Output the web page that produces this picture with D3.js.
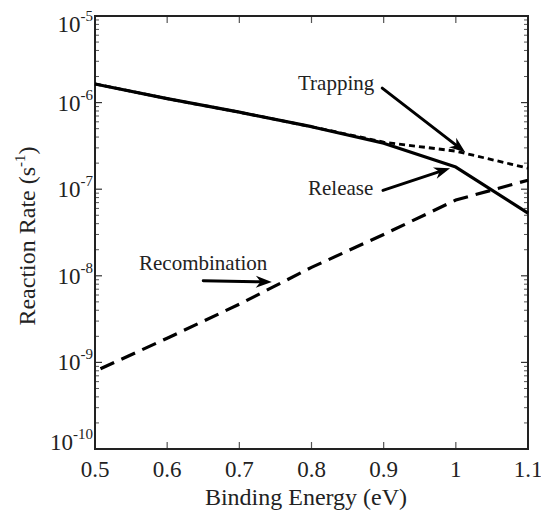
<!DOCTYPE html>
<html>
<head>
<meta charset="utf-8">
<script src="https://cdn.jsdelivr.net/npm/d3@7"></script>
<style>
  html, body { margin: 0; padding: 0; background: #fff; }
  svg { display: block; font-family: "Liberation Serif", "Times New Roman", serif; }
</style>
</head>
<body>
<svg id="chart" width="541" height="513"></svg>
<script>
// ---- data ----
const energies = [0.5, 0.6, 0.7, 0.8, 0.9, 1.0, 1.1];
const trapping = [1.64e-6, 1.11e-6, 7.75e-7, 5.27e-7, 3.5e-7, 2.75e-7, 1.75e-7];
const release  = [1.64e-6, 1.11e-6, 7.75e-7, 5.27e-7, 3.4e-7, 1.8e-7, 5.3e-8];
const recombination = [7.9e-10, 1.9e-9, 4.7e-9, 1.25e-8, 3.0e-8, 7.5e-8, 1.27e-7];
const xTicks = [0.5, 0.6, 0.7, 0.8, 0.9, 1.0, 1.1];
const xTickLabels = ["0.5", "0.6", "0.7", "0.8", "0.9", "1", "1.1"];
const yExponents = [-5, -6, -7, -8, -9, -10];
const annotations = [
  { label: "Trapping", tx: 298, ty: 90, from: [0.898, 1.47e-6], to: [1.013, 2.67e-7] },
  { label: "Release", tx: 308, ty: 195, from: [0.899, 9.7e-8], to: [0.992, 1.75e-7] },
  { label: "Recombination", tx: 139, ty: 270, from: [0.65, 8.75e-9], to: [0.745, 8.5e-9] }
];

// ---- layout ----
const svg = d3.select("#chart");
const L = 95, T = 16, R = 528, B = 449;
const x = d3.scaleLinear().domain([0.5, 1.1]).range([L, R]);
const y = d3.scaleLog().domain([1e-10, 1e-5]).range([B, T]);

// minor ticks for log axis
const minorVals = [];
for (let e = -10; e < -5; e++) for (let k = 2; k <= 9; k++) minorVals.push(k * Math.pow(10, e));

const g = svg.append("g");

// left & right ticks
[{ x0: L, dir: 1 }, { x0: R, dir: -1 }].forEach(s => {
  g.selectAll(null).data(minorVals).enter().append("line")
    .attr("x1", s.x0).attr("x2", s.x0 + s.dir * 4)
    .attr("y1", d => y(d)).attr("y2", d => y(d))
    .attr("stroke", "#555").attr("stroke-width", 1);
  g.selectAll(null).data(yExponents).enter().append("line")
    .attr("x1", s.x0).attr("x2", s.x0 + s.dir * 7)
    .attr("y1", d => y(Math.pow(10, d))).attr("y2", d => y(Math.pow(10, d)))
    .attr("stroke", "#333").attr("stroke-width", 1.2);
});
// top & bottom ticks
[{ y0: B, dir: -1 }, { y0: T, dir: 1 }].forEach(s => {
  g.selectAll(null).data(xTicks).enter().append("line")
    .attr("x1", d => x(d)).attr("x2", d => x(d))
    .attr("y1", s.y0).attr("y2", s.y0 + s.dir * 7)
    .attr("stroke", "#555").attr("stroke-width", 1.2);
});

// frame
g.append("rect").attr("x", L).attr("y", T).attr("width", R - L).attr("height", B - T)
  .attr("fill", "none").attr("stroke", "#222").attr("stroke-width", 2);

// x tick labels
g.selectAll(null).data(xTicks).enter().append("text")
  .attr("x", d => x(d)).attr("y", B + 28)
  .attr("text-anchor", "middle").attr("font-size", 23).attr("fill", "#222")
  .text((d, i) => xTickLabels[i]);

// y tick labels
yExponents.forEach((e, i) => {
  const yy = y(Math.pow(10, e));
  let base = yy + 8;
  if (i === 0) base = yy + 16;
  if (i === yExponents.length - 1) base = yy + 1;
  const t = g.append("text").attr("x", 93).attr("y", base)
    .attr("text-anchor", "end").attr("font-size", 23).attr("fill", "#222");
  t.append("tspan").text("10");
  t.append("tspan").attr("font-size", 15).attr("dy", -11).text(String(e));
});

// axis titles
svg.append("text").attr("x", 306).attr("y", 505)
  .attr("text-anchor", "middle").attr("font-size", 24).attr("fill", "#222")
  .text("Binding Energy (eV)");
const yt = svg.append("text").attr("transform", "translate(35,236) rotate(-90)")
  .attr("text-anchor", "middle").attr("font-size", 24).attr("fill", "#222");
yt.append("tspan").text("Reaction Rate (s");
yt.append("tspan").attr("font-size", 15).attr("dy", -10).text("-1");
yt.append("tspan").attr("dy", 10).text(")");

// lines
const line = d3.line().x(d => x(d[0])).y(d => y(d[1]));
const zip = vals => energies.map((e, i) => [e, vals[i]]);

svg.append("path").datum(zip(trapping)).attr("d", line)
  .attr("fill", "none").attr("stroke", "#000").attr("stroke-width", 2.8)
  .attr("stroke-dasharray", "6,4");
svg.append("path").datum(zip(release)).attr("d", line)
  .attr("fill", "none").attr("stroke", "#000").attr("stroke-width", 3.2)
  .attr("stroke-linejoin", "round");
svg.append("path").datum(zip(recombination)).attr("d", line)
  .attr("fill", "none").attr("stroke", "#000").attr("stroke-width", 3.2)
  .attr("stroke-dasharray", "15,8").attr("stroke-dashoffset", 17);

// annotations
annotations.forEach(a => {
  svg.append("text").attr("x", a.tx).attr("y", a.ty)
    .attr("font-size", 21).attr("fill", "#222").text(a.label);
  const x1 = x(a.from[0]), y1 = y(a.from[1]), x2 = x(a.to[0]), y2 = y(a.to[1]);
  const ang = Math.atan2(y2 - y1, x2 - x1);
  const hl = 16, hw = 6;
  const bx = x2 - hl * Math.cos(ang), by = y2 - hl * Math.sin(ang);
  const nx = -Math.sin(ang), ny = Math.cos(ang);
  const mx = x2 - hl * 0.7 * Math.cos(ang), my = y2 - hl * 0.7 * Math.sin(ang);
  svg.append("line").attr("x1", x1).attr("y1", y1).attr("x2", mx).attr("y2", my)
    .attr("stroke", "#000").attr("stroke-width", 3).attr("stroke-linecap", "round");
  svg.append("path")
    .attr("d", `M${x2},${y2} L${bx + nx * hw},${by + ny * hw} L${mx},${my} L${bx - nx * hw},${by - ny * hw} Z`)
    .attr("fill", "#000");
});
</script>
</body>
</html>
